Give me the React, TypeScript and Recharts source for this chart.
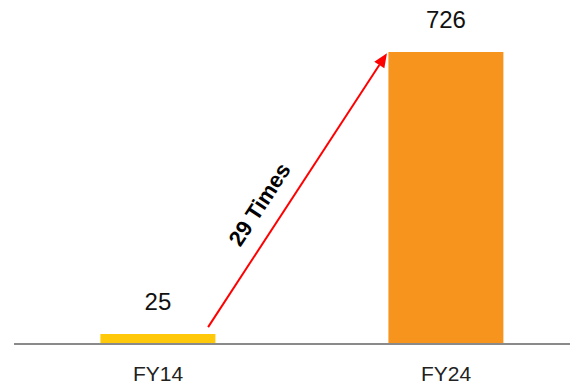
import React from "react";
import { BarChart, Bar, XAxis, YAxis, Cell, LabelList, ReferenceLine } from "recharts";

const categories = ["FY14", "FY24"];
const values = [25, 726];
const barColors = ["#FFC808", "#F7941E"];
const growthLabel = "29 Times";
// arrow endpoints in data space (x as fraction of the plot width, y in value units)
const arrowStart = { x: 0.337, y: 42 };
const arrowEnd = { x: 0.6475, y: 723 };

const data = categories.map((c, i) => ({ name: c, value: values[i] }));

const FONT = "'Liberation Sans', Arial, Helvetica, sans-serif";

const ArrowShape = (props: any) => {
  const { x1, y1, x2, y2 } = props;
  if ([x1, y1, x2, y2].some((v) => typeof v !== "number" || isNaN(v))) return null;
  const dx = x2 - x1;
  const dy = y2 - y1;
  const len = Math.sqrt(dx * dx + dy * dy);
  const ux = dx / len;
  const uy = dy / len;
  const headLen = 14;
  const headW = 6;
  const bx = x2 - ux * headLen;
  const by = y2 - uy * headLen;
  const nx = uy;
  const ny = -ux;
  const t = 0.4;
  const k = 24;
  const tx = x1 + dx * t + uy * k;
  const ty = y1 + dy * t - ux * k;
  const angle = (Math.atan2(dy, dx) * 180) / Math.PI;
  return (
    <g>
      <line x1={x1} y1={y1} x2={bx} y2={by} stroke="#FF0000" strokeWidth={2} />
      <polygon
        points={`${x2},${y2} ${bx + nx * headW},${by + ny * headW} ${bx - nx * headW},${by - ny * headW}`}
        fill="#FF0000"
      />
      <text
        x={tx}
        y={ty}
        transform={`rotate(${angle} ${tx} ${ty})`}
        textAnchor="middle"
        dominantBaseline="central"
        fontFamily={FONT}
        fontWeight="bold"
        fontSize={22}
        fill="#000"
      >
        {growthLabel}
      </text>
    </g>
  );
};

export default function App() {
  return (
    <div style={{ marginTop: -8, width: 570, height: 385, overflowX: "clip", overflowY: "visible" }}>
      <BarChart
        width={582}
        height={385}
        data={data}
        margin={{ top: 52, right: 0, left: 6, bottom: 0 }}
        barCategoryGap="30%"
      >
        <XAxis
          dataKey="name"
          axisLine={{ stroke: "#8A8A8A", strokeWidth: 2 }}
          tickLine={false}
          tickMargin={16}
          height={41}
          tick={{ fontSize: 21, fill: "#222", fontFamily: FONT }}
        />
        <XAxis xAxisId="n" type="number" domain={[0, 1]} hide allowDataOverflow />
        <YAxis hide domain={[0, 726]} allowDataOverflow />
        <Bar dataKey="value" isAnimationActive={false}>
          {data.map((d, i) => (
            <Cell key={d.name} fill={barColors[i]} />
          ))}
          <LabelList
            dataKey="value"
            position="top"
            offset={24}
            style={{ fontSize: 24, fill: "#111", fontFamily: FONT }}
          />
        </Bar>
        <ReferenceLine
          xAxisId="n"
          segment={[arrowStart, arrowEnd]}
          ifOverflow="visible"
          shape={ArrowShape}
        />
      </BarChart>
    </div>
  );
}
